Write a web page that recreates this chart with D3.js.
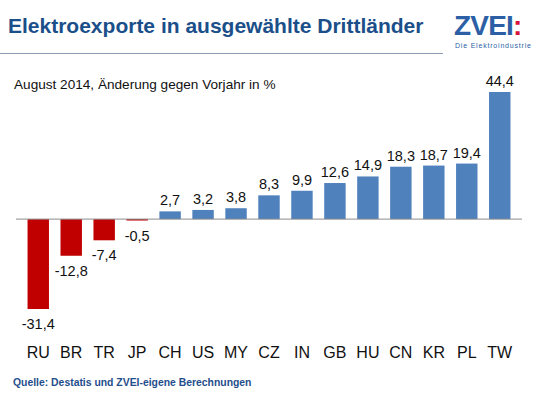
<!DOCTYPE html>
<html>
<head>
<meta charset="utf-8">
<script src="https://cdn.jsdelivr.net/npm/d3@7"></script>
<style>
  body { margin: 0; background: #fff; }
  text { font-family: "Liberation Sans", Arial, sans-serif; }
</style>
</head>
<body>
<svg id="chart" width="538" height="400"></svg>
<script>
const categories = ["RU", "BR", "TR", "JP", "CH", "US", "MY", "CZ", "IN", "GB", "HU", "CN", "KR", "PL", "TW"];
const values = [-31.4, -12.8, -7.4, -0.5, 2.7, 3.2, 3.8, 8.3, 9.9, 12.6, 14.9, 18.3, 18.7, 19.4, 44.4];
const valueLabels = ["-31,4", "-12,8", "-7,4", "-0,5", "2,7", "3,2", "3,8", "8,3", "9,9", "12,6", "14,9", "18,3", "18,7", "19,4", "44,4"];

const data = categories.map((c, i) => ({ label: c, value: values[i], text: valueLabels[i] }));

const svg = d3.select("#chart");

const xScale = d3
  .scaleBand()
  .domain(categories)
  .range([16, 522])
  .padding(0.35);

const yScale = d3
  .scaleLinear()
  .domain([d3.min(values), d3.max(values)])
  .range([309, 92]);

// title + rule
svg.append("text")
  .attr("x", 8)
  .attr("y", 33)
  .attr("font-size", 21)
  .attr("font-weight", "bold")
  .attr("fill", "#1b4f8a")
  .text("Elektroexporte in ausgewählte Drittländer");

svg.append("line")
  .attr("x1", 0).attr("x2", 443)
  .attr("y1", 53.5).attr("y2", 53.5)
  .attr("stroke", "#8a9bb3")
  .attr("stroke-width", 1);

// logo
const logo = svg.append("g");
logo.append("text")
  .attr("x", 454)
  .attr("y", 35)
  .attr("font-size", 28)
  .attr("font-weight", "bold")
  .attr("letter-spacing", -0.8)
  .attr("fill", "#2c5fa6")
  .text("ZVEI")
  .append("tspan")
  .attr("fill", "#d9143a")
  .attr("letter-spacing", 0)
  .text(":");
logo.append("text")
  .attr("x", 455)
  .attr("y", 48)
  .attr("font-size", 7)
  .attr("fill", "#2c5fa6")
  .attr("letter-spacing", 0.8)
  .text("Die Elektroindustrie");

// subtitle
svg.append("text")
  .attr("x", 14)
  .attr("y", 89)
  .attr("font-size", 13.6)
  .attr("fill", "#111")
  .text("August 2014, Änderung gegen Vorjahr in %");

// bars
svg.selectAll("rect.bar")
  .data(data)
  .enter()
  .append("rect")
  .attr("class", "bar")
  .attr("x", d => xScale(d.label))
  .attr("width", xScale.bandwidth())
  .attr("y", d => yScale(Math.max(0, d.value)))
  .attr("height", d => Math.abs(yScale(d.value) - yScale(0)))
  .attr("fill", d => d.value < 0 ? "#c00000" : "#4f81bd");

// zero line
svg.append("line")
  .attr("x1", 16).attr("x2", 522)
  .attr("y1", yScale(0)).attr("y2", yScale(0))
  .attr("stroke", "#8c8c8c")
  .attr("stroke-width", 1);

// value labels
svg.selectAll("text.val")
  .data(data)
  .enter()
  .append("text")
  .attr("class", "val")
  .attr("x", d => xScale(d.label) + xScale.bandwidth() / 2)
  .attr("y", d => d.value < 0 ? yScale(d.value) + 20 : yScale(d.value) - 6)
  .attr("text-anchor", "middle")
  .attr("font-size", 14.5)
  .attr("fill", "#111")
  .text(d => d.text);

// category labels
svg.selectAll("text.cat")
  .data(data)
  .enter()
  .append("text")
  .attr("class", "cat")
  .attr("x", d => xScale(d.label) + xScale.bandwidth() / 2)
  .attr("y", 358)
  .attr("text-anchor", "middle")
  .attr("font-size", 16)
  .attr("fill", "#111")
  .text(d => d.label);

// source
svg.append("text")
  .attr("x", 13)
  .attr("y", 386)
  .attr("font-size", 10.4)
  .attr("font-weight", "bold")
  .attr("fill", "#1f4e8c")
  .text("Quelle: Destatis und ZVEI-eigene Berechnungen");
</script>
</body>
</html>
